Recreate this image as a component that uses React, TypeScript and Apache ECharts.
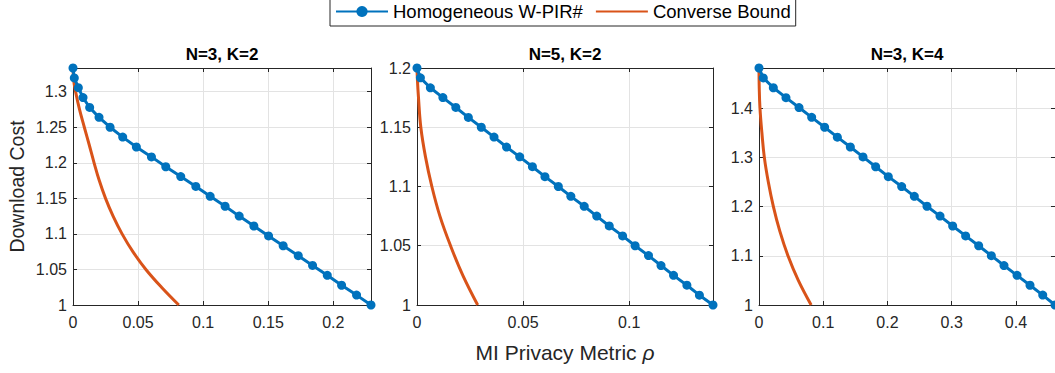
import React, { useEffect, useRef } from 'react';
import * as echarts from 'echarts';

const SERIES_A = 'Homogeneous W-PIR#';
const SERIES_B = 'Converse Bound';
const TITLES = ['N=3, K=2', 'N=5, K=2', 'N=3, K=4'];
const X_LABEL = 'MI Privacy Metric {i|ρ}';
const Y_LABEL = 'Download Cost';

// Panel 1: N=3, K=2
const wpirX1 = [0, 0.0010, 0.0041, 0.0077, 0.0128, 0.0200, 0.0285, 0.0382, 0.0487, 0.0603, 0.0713, 0.0828, 0.0944, 0.1054, 0.1169, 0.1277, 0.1390, 0.1503, 0.1615, 0.1731, 0.1841, 0.1954, 0.2064, 0.2179, 0.2290];
const wpirY1 = [1.3333, 1.3194, 1.3056, 1.2917, 1.2778, 1.2639, 1.2500, 1.2361, 1.2222, 1.2083, 1.1944, 1.1806, 1.1667, 1.1528, 1.1389, 1.1250, 1.1111, 1.0972, 1.0833, 1.0694, 1.0556, 1.0417, 1.0278, 1.0139, 1.0];
const boundX1 = [0, 0.0006, 0.0020, 0.0050, 0.0087, 0.0125, 0.0162, 0.0202, 0.0250, 0.0308, 0.0377, 0.0460, 0.0560, 0.0680, 0.0813];
const boundY1 = [1.3333, 1.315, 1.3, 1.275, 1.25, 1.225, 1.2, 1.175, 1.15, 1.125, 1.1, 1.075, 1.05, 1.025, 1.0];

// Panel 2: N=5, K=2
const wpirX2 = [0, 0.0016, 0.0063, 0.0122, 0.0183, 0.0242, 0.0303, 0.0363, 0.0422, 0.0484, 0.0544, 0.0603, 0.0666, 0.0725, 0.0788, 0.0847, 0.0906, 0.0969, 0.1028, 0.1091, 0.1150, 0.1209, 0.1272, 0.1331, 0.1395];
const wpirY2 = [1.2, 1.1917, 1.1833, 1.175, 1.1667, 1.1583, 1.15, 1.1417, 1.1333, 1.125, 1.1167, 1.1083, 1.1, 1.0917, 1.0833, 1.075, 1.0667, 1.0583, 1.05, 1.0417, 1.0333, 1.025, 1.0167, 1.0083, 1.0];
const boundX2 = [0, 0.0002, 0.0007, 0.0018, 0.0040, 0.0070, 0.0108, 0.0158, 0.0216, 0.0286];
const boundY2 = [1.2, 1.19, 1.175, 1.15, 1.125, 1.1, 1.075, 1.05, 1.025, 1.0];

// Panel 3: N=3, K=4
const wpirX3 = [0, 0.0067, 0.0223, 0.0420, 0.0623, 0.0820, 0.1022, 0.1220, 0.1422, 0.1619, 0.1816, 0.2013, 0.2221, 0.2418, 0.2615, 0.2818, 0.3015, 0.3217, 0.3420, 0.3617, 0.3814, 0.4017, 0.4219, 0.4417, 0.4608];
const wpirY3 = [1.4815, 1.4614, 1.4414, 1.4213, 1.4012, 1.3812, 1.3611, 1.3410, 1.3210, 1.3009, 1.2809, 1.2608, 1.2407, 1.2207, 1.2006, 1.1806, 1.1605, 1.1404, 1.1204, 1.1003, 1.0802, 1.0602, 1.0401, 1.0201, 1.0];
const boundX3 = [0, 0.0004, 0.0015, 0.0045, 0.0083, 0.0145, 0.0224, 0.0324, 0.0451, 0.0612, 0.0812];
const boundY3 = [1.4815, 1.44, 1.4, 1.35, 1.3, 1.25, 1.2, 1.15, 1.1, 1.05, 1.0];

const X_MAX = [0.229, 0.1395, 0.4608];
const Y_MAX = [1.3333, 1.2, 1.4815];
const X_STEP = [0.05, 0.05, 0.1];
const Y_STEP = [0.05, 0.05, 0.1];
const SHOW_Y_MAX_LABEL = [false, true, false];

const WPIR_X = [wpirX1, wpirX2, wpirX3];
const WPIR_Y = [wpirY1, wpirY2, wpirY3];
const BOUND_X = [boundX1, boundX2, boundX3];
const BOUND_Y = [boundY1, boundY2, boundY3];

const FONT = "'Liberation Sans', Arial, Helvetica, sans-serif";
const AXIS_COLOR = '#262626';
const BLUE = '#0072BD';
const ORANGE = '#D95319';

const zip = (xs: number[], ys: number[]) => xs.map((x, i) => [x, ys[i]]);

export default function App() {
  const ref = useRef<HTMLDivElement>(null);
  useEffect(() => {
    if (!ref.current) return;
    const chart = echarts.init(ref.current, undefined, { renderer: 'svg' });
    const grids = [
      { left: 73, top: 68, width: 298, height: 237 },
      { left: 417, top: 68, width: 296, height: 237 },
      { left: 759, top: 68, width: 297, height: 237 },
    ];
    const xAxes: any[] = [];
    const yAxes: any[] = [];
    const series: any[] = [];
    for (let p = 0; p < 3; p++) {
      const common = {
        type: 'value',
        gridIndex: p,
        axisLine: { show: true, onZero: false, lineStyle: { color: AXIS_COLOR, width: 1 } },
        axisTick: { show: true, inside: true, length: 4, lineStyle: { color: AXIS_COLOR } },
      };
      xAxes.push({
        ...common,
        position: 'bottom',
        min: 0,
        max: X_MAX[p],
        interval: X_STEP[p],
        axisLabel: { color: AXIS_COLOR, fontSize: 16, fontFamily: FONT, margin: 9, showMaxLabel: false },
        splitLine: { show: true, lineStyle: { color: '#e3e3e3', width: 1 } },
        ...(p === 1
          ? {
              name: X_LABEL,
              nameLocation: 'middle',
              nameGap: 37,
              nameTextStyle: {
                color: AXIS_COLOR,
                fontSize: 21,
                fontFamily: FONT,
                rich: { i: { fontStyle: 'italic', fontSize: 21, fontFamily: FONT, color: AXIS_COLOR } },
              },
            }
          : {}),
      });
      xAxes.push({
        ...common,
        position: 'top',
        min: 0,
        max: X_MAX[p],
        interval: X_STEP[p],
        axisLabel: { show: false },
        splitLine: { show: false },
        name: TITLES[p],
        nameLocation: 'middle',
        nameGap: 5,
        nameTextStyle: { color: '#000', fontSize: 17, fontWeight: 'bold', fontFamily: FONT, verticalAlign: 'bottom' },
      });
      yAxes.push({
        ...common,
        position: 'left',
        min: 1,
        max: Y_MAX[p],
        interval: Y_STEP[p],
        axisLabel: { color: AXIS_COLOR, fontSize: 16, fontFamily: FONT, margin: 6, showMaxLabel: SHOW_Y_MAX_LABEL[p] },
        splitLine: { show: true, lineStyle: { color: '#e3e3e3', width: 1 } },
        ...(p === 0
          ? {
              name: Y_LABEL,
              nameLocation: 'middle',
              nameGap: 46,
              nameTextStyle: { color: AXIS_COLOR, fontSize: 19.5, fontFamily: FONT },
            }
          : {}),
      });
      yAxes.push({
        ...common,
        position: 'right',
        min: 1,
        max: Y_MAX[p],
        interval: Y_STEP[p],
        axisLabel: { show: false },
        splitLine: { show: false },
      });
      series.push({
        name: SERIES_A,
        type: 'line',
        xAxisIndex: p * 2,
        yAxisIndex: p * 2,
        data: zip(WPIR_X[p], WPIR_Y[p]),
        symbol: 'circle',
        symbolSize: 9,
        showSymbol: true,
        color: BLUE,
        itemStyle: { color: BLUE },
        lineStyle: { color: BLUE, width: 3 },
        clip: false,
        z: 3,
      });
      series.push({
        name: SERIES_B,
        type: 'line',
        xAxisIndex: p * 2,
        yAxisIndex: p * 2,
        data: zip(BOUND_X[p], BOUND_Y[p]),
        symbol: 'none',
        showSymbol: false,
        smooth: 0.4,
        color: ORANGE,
        itemStyle: { color: ORANGE },
        lineStyle: { color: ORANGE, width: 3 },
        clip: false,
        z: 2,
      });
    }
    chart.setOption({
      animation: false,
      backgroundColor: '#ffffff',
      grid: grids,
      xAxis: xAxes,
      yAxis: yAxes,
      legend: {
        data: [SERIES_A, { name: SERIES_B, itemStyle: { opacity: 0 } }],
        left: 330,
        top: -3,
        padding: [5, 5, 5, 5],
        itemWidth: 52,
        itemHeight: 14,
        itemGap: 12,
        borderColor: AXIS_COLOR,
        borderWidth: 1,
        backgroundColor: '#fff',
        textStyle: { color: '#000', fontSize: 18.5, fontFamily: FONT },
      },
      series,
    });
    return () => chart.dispose();
  }, []);
  return (
    <div
      ref={ref}
      style={{ position: 'absolute', left: 0, top: 0, width: 1055, height: 373 }}
    />
  );
}
